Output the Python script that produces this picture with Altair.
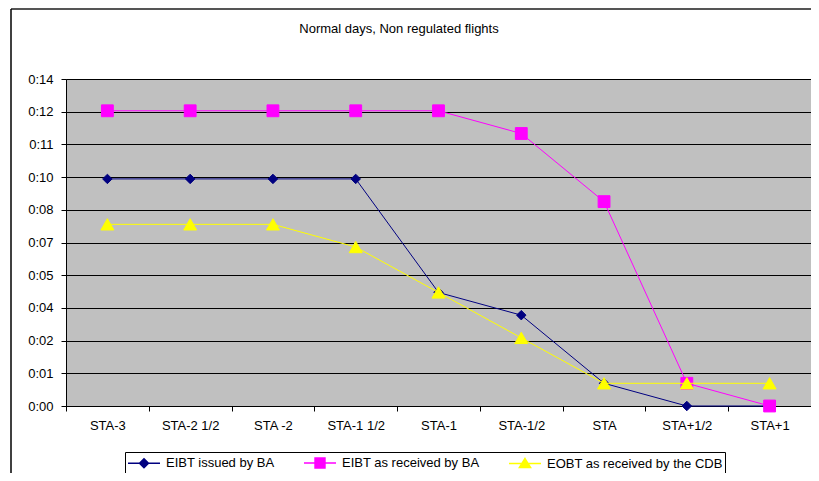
import altair as alt
import pandas as pd

categories = ["STA-3", "STA-2 1/2", "STA -2", "STA-1 1/2", "STA-1", "STA-1/2", "STA", "STA+1/2", "STA+1"]
series_names = ["EIBT issued by BA", "EIBT as received by BA", "EOBT as received by the CDB"]
eibt_issued = [10, 10, 10, 10, 5, 4, 1, 0, 0]        # minutes
eibt_received = [13, 13, 13, 13, 13, 12, 9, 1, 0]    # minutes
eobt_cdb = [8, 8, 8, 7, 5, 3, 1, 1, 1]               # minutes
y_ticks = [0, 1.44, 2.88, 4.32, 5.76, 7.2, 8.64, 10.08, 11.52, 12.96, 14.4]  # minutes (Excel 0.001-day steps)
chart_title = "Normal days, Non regulated flights"

colors = ["#000080", "#FF00FF", "#FFFF00"]
shapes = ["diamond", "square", "triangle-up"]
sizes = [90, 140, 170]
# legend glyphs: a line segment with the series marker in its middle
legend_paths = [
    "M-1,0L3,0M1,-0.56L1.56,0L1,0.56L0.44,0Z",
    "M-1,0L3,0M0.38,-0.62L1.62,-0.62L1.62,0.62L0.38,0.62Z",
    "M-1,0L3,0M1,-0.62L1.7,0.5L0.3,0.5Z",
]

rows = []
for name, vals in zip(series_names, [eibt_issued, eibt_received, eobt_cdb]):
    for c, v in zip(categories, vals):
        rows.append({"cat": c, "series": name, "minutes": v})
df = pd.DataFrame(rows)

FONT = "Liberation Sans"
FS = 13

x_enc = alt.X(
    "cat:N", sort=categories, title=None,
    scale=alt.Scale(type="band", paddingInner=0, paddingOuter=0),
    axis=alt.Axis(labelAngle=0, tickBand="extent", domainColor="black", tickColor="black",
                  tickSize=5, labelPadding=8, labelFont=FONT, labelFontSize=FS,
                  labelColor="black", grid=False),
)
y_enc = alt.Y(
    "minutes:Q", title=None,
    scale=alt.Scale(domain=[0, 14.4], nice=False, zero=True),
    axis=alt.Axis(values=y_ticks,
                  labelExpr="'0:' + (floor(datum.value + 0.0001) < 10 ? '0' : '') + floor(datum.value + 0.0001)",
                  domainColor="black", tickColor="black", tickSize=5, labelPadding=8,
                  labelFont=FONT, labelFontSize=FS, labelColor="black",
                  grid=True, gridColor="black", gridWidth=1),
)

base = alt.Chart(df)

leg = alt.Legend(orient="none", legendX=59, legendY=373, direction="horizontal",
                 columns=3, symbolSize=256, symbolStrokeWidth=1.5, symbolOpacity=1,
                 labelFont=FONT, labelFontSize=FS, labelColor="black", labelLimit=400,
                 labelOffset=21, columnPadding=26, padding=2,
                 strokeColor="black", fillColor="white")

# legend-only layer: no rows drawn, entries come from the explicit scale domains
legend_layer = base.transform_filter(alt.datum.minutes < -1).mark_point(filled=True).encode(
    x=x_enc, y=y_enc,
    fill=alt.Fill("series:N", scale=alt.Scale(domain=series_names, range=colors), title="", legend=leg),
    stroke=alt.Stroke("series:N", scale=alt.Scale(domain=series_names, range=colors), title="", legend=leg),
    shape=alt.Shape("series:N", scale=alt.Scale(domain=series_names, range=legend_paths), title="", legend=leg),
)

series_layers = []
for name, col, shp, sz in zip(series_names, colors, shapes, sizes):
    sub = base.transform_filter(alt.datum.series == name)
    series_layers.append(sub.mark_line(strokeWidth=1, color=col).encode(x=x_enc, y=y_enc))
    series_layers.append(
        sub.mark_point(filled=True, shape=shp, size=sz, color=col, stroke=col, strokeWidth=1, opacity=1)
        .encode(x=x_enc, y=y_enc)
    )

one = pd.DataFrame({"t": [chart_title]})
title_mark = alt.Chart(one).mark_text(font=FONT, fontSize=FS, color="black", align="center",
                                      baseline="middle").encode(
    text="t:N", x=alt.value(333), y=alt.value(-50)
)
frame_top = alt.Chart(one).mark_rule(color="#555555", strokeWidth=2).encode(
    x=alt.value(-55), x2=alt.value(745), y=alt.value(-70)
)
frame_left = alt.Chart(one).mark_rule(color="black", strokeWidth=1.5).encode(
    x=alt.value(-55), y=alt.value(-70), y2=alt.value(394)
)

chart = alt.layer(legend_layer, *series_layers, title_mark, frame_top, frame_left).properties(
    width=745, height=327,
    autosize=alt.AutoSizeParams(type="none"),
    padding={"left": 58, "top": 71, "right": 0, "bottom": 67},
    background="white",
).configure_view(fill="#C0C0C0", stroke="#808080", strokeWidth=1)

chart.save("out.html", embed_options={"renderer": "svg", "actions": False})
